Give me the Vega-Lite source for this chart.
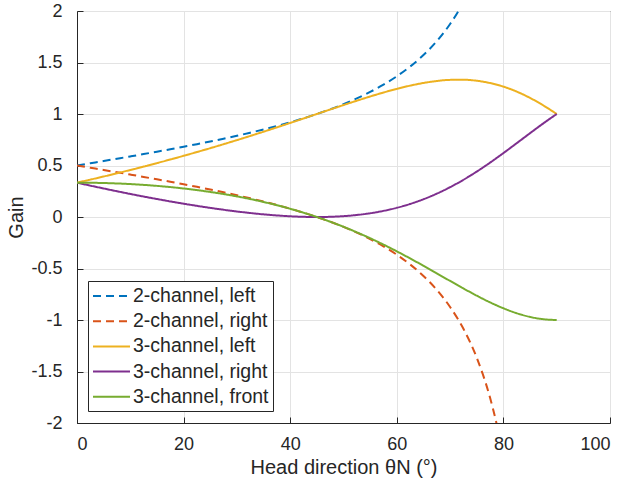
{
  "$schema": "https://vega.github.io/schema/vega-lite/v6.json",
  "width": 533,
  "height": 412,
  "autosize": "none",
  "padding": {"left": 77, "top": 11, "right": 17, "bottom": 64},
  "background": "white",
  "config": {
    "font": "Liberation Sans",
    "view": {"stroke": "#262626", "strokeWidth": 1},
    "axis": {
      "domainColor": "#262626",
      "tickColor": "#262626",
      "labelColor": "#262626",
      "titleColor": "#262626",
      "gridColor": "#e3e3e3",
      "gridOpacity": 1,
      "labelFontSize": 18,
      "titleFontSize": 20,
      "titleFontWeight": "normal",
      "tickSize": -6
    }
  },
  "data": {
    "values": [
      {"t": 0, "2-channel, left": 0.5, "2-channel, right": 0.5, "3-channel, left": 0.33333, "3-channel, right": 0.33333, "3-channel, front": 0.33333},
      {"t": 2.5, "2-channel, left": 0.52183, "2-channel, right": 0.47817, "3-channel, left": 0.36285, "3-channel, right": 0.30467, "3-channel, front": 0.33249},
      {"t": 5, "2-channel, left": 0.54374, "2-channel, right": 0.45626, "3-channel, left": 0.39321, "3-channel, right": 0.27685, "3-channel, front": 0.32994},
      {"t": 7.5, "2-channel, left": 0.56583, "2-channel, right": 0.43417, "3-channel, left": 0.42443, "3-channel, right": 0.2499, "3-channel, front": 0.32568},
      {"t": 10, "2-channel, left": 0.58816, "2-channel, right": 0.41184, "3-channel, left": 0.45652, "3-channel, right": 0.22383, "3-channel, front": 0.31966},
      {"t": 12.5, "2-channel, left": 0.61085, "2-channel, right": 0.38915, "3-channel, left": 0.48949, "3-channel, right": 0.19866, "3-channel, front": 0.31184},
      {"t": 15, "2-channel, left": 0.63397, "2-channel, right": 0.36603, "3-channel, left": 0.52337, "3-channel, right": 0.17446, "3-channel, front": 0.30217},
      {"t": 17.5, "2-channel, left": 0.65765, "2-channel, right": 0.34235, "3-channel, left": 0.55818, "3-channel, right": 0.15126, "3-channel, front": 0.29057},
      {"t": 20, "2-channel, left": 0.68199, "2-channel, right": 0.31801, "3-channel, left": 0.59391, "3-channel, right": 0.12914, "3-channel, front": 0.27695},
      {"t": 22.5, "2-channel, left": 0.70711, "2-channel, right": 0.29289, "3-channel, left": 0.6306, "3-channel, right": 0.10819, "3-channel, front": 0.2612},
      {"t": 25, "2-channel, left": 0.73315, "2-channel, right": 0.26685, "3-channel, left": 0.66825, "3-channel, right": 0.08853, "3-channel, front": 0.24322},
      {"t": 27.5, "2-channel, left": 0.76028, "2-channel, right": 0.23972, "3-channel, left": 0.70686, "3-channel, right": 0.07027, "3-channel, front": 0.22287},
      {"t": 30, "2-channel, left": 0.78868, "2-channel, right": 0.21132, "3-channel, left": 0.74641, "3-channel, right": 0.05359, "3-channel, front": 0.2},
      {"t": 32.5, "2-channel, left": 0.81854, "2-channel, right": 0.18146, "3-channel, left": 0.78688, "3-channel, right": 0.03867, "3-channel, front": 0.17445},
      {"t": 35, "2-channel, left": 0.8501, "2-channel, right": 0.1499, "3-channel, left": 0.82821, "3-channel, right": 0.02575, "3-channel, front": 0.14604},
      {"t": 37.5, "2-channel, left": 0.88366, "2-channel, right": 0.11634, "3-channel, left": 0.87033, "3-channel, right": 0.01508, "3-channel, front": 0.11458},
      {"t": 40, "2-channel, left": 0.91955, "2-channel, right": 0.08045, "3-channel, left": 0.91312, "3-channel, right": 0.00699, "3-channel, front": 0.07989},
      {"t": 42.5, "2-channel, left": 0.95817, "2-channel, right": 0.04183, "3-channel, left": 0.95641, "3-channel, right": 0.00183, "3-channel, front": 0.04176},
      {"t": 45, "2-channel, left": 1, "2-channel, right": 0, "3-channel, left": 1, "3-channel, right": 0, "3-channel, front": 0},
      {"t": 47.5, "2-channel, left": 1.04565, "2-channel, right": -0.04565, "3-channel, left": 1.04357, "3-channel, right": 0.00199, "3-channel, front": -0.04557},
      {"t": 50, "2-channel, left": 1.09588, "2-channel, right": -0.09588, "3-channel, left": 1.08676, "3-channel, right": 0.00832, "3-channel, front": -0.09508},
      {"t": 52.5, "2-channel, left": 1.15161, "2-channel, right": -0.15161, "3-channel, left": 1.12908, "3-channel, right": 0.01957, "3-channel, front": -0.14865},
      {"t": 55, "2-channel, left": 1.21407, "2-channel, right": -0.21407, "3-channel, left": 1.16991, "3-channel, right": 0.03638, "3-channel, front": -0.20629},
      {"t": 57.5, "2-channel, left": 1.28484, "2-channel, right": -0.28484, "3-channel, left": 1.20853, "3-channel, right": 0.0594, "3-channel, front": -0.26793},
      {"t": 60, "2-channel, left": 1.36603, "2-channel, right": -0.36603, "3-channel, left": 1.24402, "3-channel, right": 0.08931, "3-channel, front": -0.33333},
      {"t": 62.5, "2-channel, left": 1.46049, "2-channel, right": -0.46049, "3-channel, left": 1.27532, "3-channel, right": 0.12679, "3-channel, front": -0.40211},
      {"t": 65, "2-channel, left": 1.57225, "2-channel, right": -0.57225, "3-channel, left": 1.30123, "3-channel, right": 0.17238, "3-channel, front": -0.47361},
      {"t": 67.5, "2-channel, left": 1.70711, "2-channel, right": -0.70711, "3-channel, left": 1.32038, "3-channel, right": 0.22654, "3-channel, front": -0.54692},
      {"t": 70, "2-channel, left": 1.87374, "2-channel, right": -0.87374, "3-channel, left": 1.33131, "3-channel, right": 0.28948, "3-channel, front": -0.6208},
      {"t": 71.565, "2-channel, left": 2.0, "2-channel, right": -1.0},
      {"t": 72.5, "2-channel, left": 2.0858, "2-channel, right": -1.0858, "3-channel, left": 1.33259, "3-channel, right": 0.36111, "3-channel, front": -0.6937},
      {"t": 75, "2-channel, left": 2.36603, "2-channel, right": -1.36603, "3-channel, left": 1.32278, "3-channel, right": 0.44093, "3-channel, front": -0.76372},
      {"t": 77.5, "2-channel, right": -1.75535, "3-channel, left": 1.30075, "3-channel, right": 0.52792, "3-channel, front": -0.82867},
      {"t": 78.69, "2-channel, right": -2.0},
      {"t": 80, "2-channel, right": -2.33564, "3-channel, left": 1.26568, "3-channel, right": 0.62055, "3-channel, front": -0.88624},
      {"t": 82.5, "3-channel, left": 1.21735, "3-channel, right": 0.71676, "3-channel, front": -0.93411},
      {"t": 85, "3-channel, left": 1.15609, "3-channel, right": 0.81399, "3-channel, front": -0.97007},
      {"t": 87.5, "3-channel, left": 1.08303, "3-channel, right": 0.90938, "3-channel, front": -0.99241},
      {"t": 90, "3-channel, left": 1, "3-channel, right": 1, "3-channel, front": -1}
    ]
  },
  "transform": [
    {"fold": ["2-channel, left", "2-channel, right", "3-channel, left", "3-channel, right", "3-channel, front"], "as": ["series", "gain"]},
    {"filter": "isValid(datum.gain)"}
  ],
  "mark": {"type": "line", "clip": true, "strokeWidth": 2, "interpolate": "monotone"},
  "encoding": {
    "x": {
      "field": "t",
      "type": "quantitative",
      "scale": {"domain": [0, 100], "nice": false},
      "axis": {"values": [0, 20, 40, 60, 80, 100], "title": "Head direction  θN (°)", "labelPadding": 18, "titlePadding": 4}
    },
    "y": {
      "field": "gain",
      "type": "quantitative",
      "scale": {"domain": [-2, 2], "nice": false},
      "axis": {
        "values": [-2, -1.5, -1, -0.5, 0, 0.5, 1, 1.5, 2],
        "format": ".1~f",
        "labelExpr": "replace(datum.label, '−', '-')",
        "title": "Gain",
        "labelPadding": 21,
        "titlePadding": 4
      }
    },
    "color": {
      "field": "series",
      "type": "nominal",
      "scale": {
        "domain": ["2-channel, left", "2-channel, right", "3-channel, left", "3-channel, right", "3-channel, front"],
        "range": ["#0072BD", "#D95319", "#EDB120", "#7E2F8E", "#77AC30"]
      },
      "legend": {
        "title": null,
        "orient": "none",
        "legendX": 11,
        "legendY": 270,
        "symbolType": "M-1,0H2.7",
        "symbolSize": 400,
        "symbolStrokeWidth": 2,
        "labelFontSize": 19.5,
        "labelColor": "#262626",
        "labelOffset": 19,
        "strokeColor": "#262626",
        "fillColor": "white",
        "padding": 4,
        "rowPadding": 4.2
      }
    },
    "strokeDash": {
      "field": "series",
      "type": "nominal",
      "scale": {
        "domain": ["2-channel, left", "2-channel, right", "3-channel, left", "3-channel, right", "3-channel, front"],
        "range": [[8, 5], [8, 5], [1, 0], [1, 0], [1, 0]]
      },
      "legend": {
        "title": null,
        "orient": "none",
        "legendX": 11,
        "legendY": 270,
        "symbolType": "M-1,0H2.7",
        "symbolSize": 400,
        "symbolStrokeWidth": 2,
        "labelFontSize": 19.5,
        "labelColor": "#262626",
        "labelOffset": 19,
        "strokeColor": "#262626",
        "fillColor": "white",
        "padding": 4,
        "rowPadding": 4.2
      }
    }
  }
}
